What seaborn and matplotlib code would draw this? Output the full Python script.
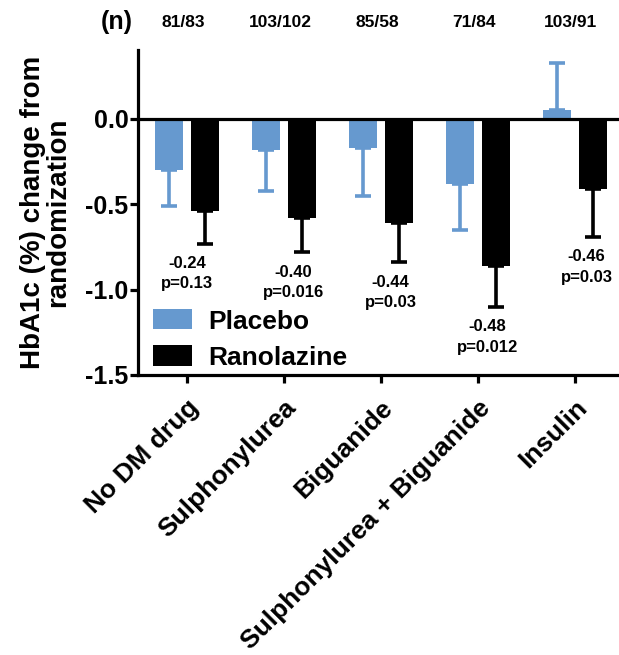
import matplotlib
matplotlib.use("Agg")
import matplotlib.pyplot as plt
import seaborn as sns
import pandas as pd

# data
groups = ["No DM drug", "Sulphonylurea", "Biguanide", "Sulphonylurea + Biguanide", "Insulin"]
placebo = [-0.30, -0.18, -0.17, -0.38, 0.05]
placebo_se = [0.21, 0.24, 0.28, 0.27, 0.28]
ranolazine = [-0.54, -0.58, -0.61, -0.86, -0.41]
ranolazine_se = [0.19, 0.20, 0.23, 0.24, 0.28]
n_labels = ["81/83", "103/102", "85/58", "71/84", "103/91"]
diffs = ["-0.24", "-0.40", "-0.44", "-0.48", "-0.46"]
pvals = ["p=0.13", "p=0.016", "p=0.03", "p=0.012", "p=0.03"]

# styles / label placement
blue = "#6699CF"
note_dx = [0.0, 0.1, 0.1, 0.1, 0.12]

sns.set_style("ticks")
plt.rcParams["font.family"] = ["Liberation Sans", "DejaVu Sans"]
plt.rcParams["font.weight"] = "bold"
for k in ["text.color", "axes.labelcolor", "xtick.color", "ytick.color", "axes.edgecolor"]:
    plt.rcParams[k] = "black"

df = pd.DataFrame({
    "group": groups * 2,
    "treatment": ["Placebo"] * len(groups) + ["Ranolazine"] * len(groups),
    "value": placebo + ranolazine,
})

fig = plt.figure(figsize=(6.19, 6.55), dpi=100)
ax = fig.add_axes([0.2229, 0.4275, 0.7771, 0.4962])

sns.barplot(data=df, x="group", y="value", hue="treatment", order=groups,
            palette=[blue, "black"], saturation=1, width=0.74, gap=0.22,
            errorbar=None, linewidth=0, ax=ax)

# one-sided error bars (away from zero), drawn behind the bars
for cont, vals, ses, col in zip(ax.containers, [placebo, ranolazine],
                                [placebo_se, ranolazine_se], [blue, "black"]):
    xs = [p.get_x() + p.get_width() / 2 for p in cont.patches]
    lo = [s if v < 0 else 0 for v, s in zip(vals, ses)]
    hi = [s if v >= 0 else 0 for v, s in zip(vals, ses)]
    ax.errorbar(xs, vals, yerr=[lo, hi], fmt="none", ecolor=col,
                elinewidth=2.6, capsize=6, capthick=2.6, zorder=0.5)

ax.axhline(0, color="black", lw=2.3, zorder=3)

ax.set_xlim(-0.505, 4.455)
ax.set_ylim(-1.5, 0.404)
ax.set_yticks([0.0, -0.5, -1.0, -1.5])
ax.set_yticklabels(["0.0", "-0.5", "-1.0", "-1.5"])
sns.despine(ax=ax)
for s in ["left", "bottom"]:
    ax.spines[s].set_linewidth(2.3)
ax.tick_params(width=2.3, length=6)
ax.tick_params(axis="y", labelsize=18, pad=1)
ax.tick_params(axis="x", labelsize=19, pad=9)
for lab in ax.get_xticklabels():
    lab.set_rotation(45)
    lab.set_ha("right")
    lab.set_rotation_mode("anchor")
ax.set_xlabel("")
ax.set_ylabel("HbA1c (%) change from\nrandomization", fontsize=20,
              fontweight="bold", linespacing=0.95, labelpad=10)

# difference + p-value notes under ranolazine bars
for i in range(len(groups)):
    yend = ranolazine[i] - ranolazine_se[i]
    ax.annotate(diffs[i] + "\n" + pvals[i], xy=(i + note_dx[i], yend),
                xytext=(0, -9), textcoords="offset points", ha="center",
                va="top", fontsize=12, fontweight="bold", linespacing=1.45)

# n per group above the plot
ax.text(-0.72, 0.567, "(n)", ha="center", va="center", fontsize=18,
        fontweight="bold", clip_on=False)
for i, t in enumerate(n_labels):
    ax.text(i - 0.04, 0.567, t, ha="center", va="center", fontsize=12.5,
            fontweight="bold", clip_on=False)

handles, labels = ax.get_legend_handles_labels()
ax.legend(handles, labels, loc="lower left", bbox_to_anchor=(0.02, 0.0),
          frameon=False, borderpad=0, borderaxespad=0.2,
          handlelength=1.5, handleheight=0.8, handletextpad=0.6,
          labelspacing=0.45, prop={"weight": "bold", "size": 19})

fig.savefig("out.png", dpi=100)
